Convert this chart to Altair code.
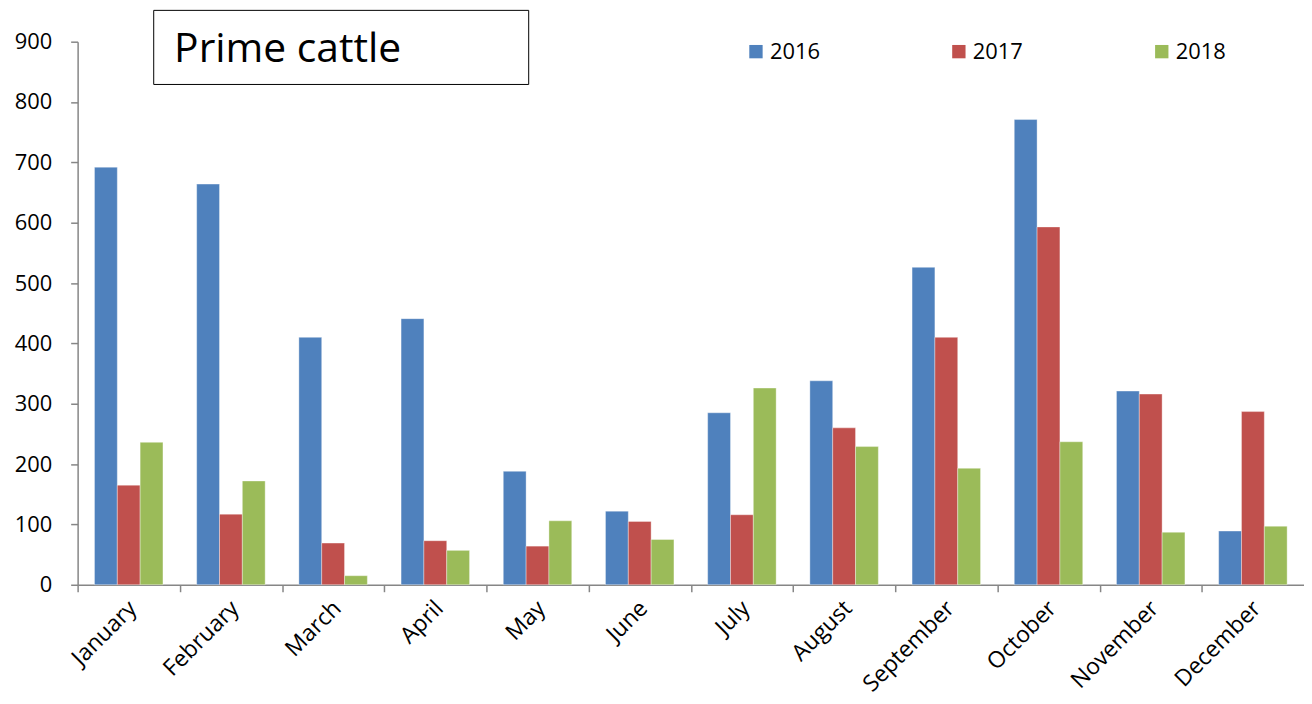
import altair as alt
import pandas as pd

months = ["January", "February", "March", "April", "May", "June",
          "July", "August", "September", "October", "November", "December"]
years = ["2016", "2017", "2018"]
y2016 = [692, 664, 410, 441, 188, 122, 285, 338, 526, 771, 321, 89]
y2017 = [165, 117, 69, 73, 64, 105, 116, 260, 410, 593, 316, 287]
y2018 = [236, 172, 15, 57, 106, 75, 326, 229, 193, 237, 87, 97]
colors = ["#4F81BD", "#C0504D", "#9BBB59"]
y_ticks = list(range(0, 901, 100))
title_text = "Prime cattle"

rows = []
for yr, vals in zip(years, [y2016, y2017, y2018]):
    for m, v in zip(months, vals):
        rows.append({"month": m, "year": yr, "value": v})
df = pd.DataFrame(rows)

FONT = "Open Sans"
GREY = "#868686"
W = 1233
STEP = W / 12.0

bars = alt.Chart(df).mark_bar(stroke="white", strokeWidth=0.8, strokeOpacity=0.45).encode(
    x=alt.X("month:N", sort=months,
            scale=alt.Scale(paddingInner=0.33, paddingOuter=0.165),
            axis=alt.Axis(title=None, labelAngle=-45, labelAlign="right",
                          labelBaseline="top",
                          tickOffset=-STEP / 2, labelOffset=STEP / 2 - 4,
                          tickSize=7, tickWidth=1.5, tickColor=GREY,
                          domainColor=GREY, domainWidth=1.5,
                          labelFont=FONT, labelFontSize=23, labelColor="black",
                          labelPadding=5)),
    xOffset=alt.XOffset("year:N", sort=years, scale=alt.Scale(paddingInner=0, paddingOuter=0)),
    y=alt.Y("value:Q", scale=alt.Scale(domain=[0, 900]),
            axis=alt.Axis(title=None, values=y_ticks, grid=False,
                          tickSize=7, tickWidth=1.5, tickColor=GREY,
                          domainColor=GREY, domainWidth=1.5,
                          labelFont=FONT, labelFontSize=22, labelColor="black",
                          labelPadding=19)),
    color=alt.Color("year:N", sort=years,
                    scale=alt.Scale(domain=years, range=colors),
                    legend=alt.Legend(title=None, orient="none", legendX=671, legendY=-1,
                                      direction="horizontal", columns=3,
                                      columnPadding=128, padding=0,
                                      symbolType="square", symbolSize=180,
                                      symbolStrokeWidth=0, symbolOpacity=1,
                                      labelFont=FONT, labelFontSize=22,
                                      labelColor="black", labelOffset=3)),
)

box = alt.Chart(alt.Data(values=[{}])).mark_rect(
    fill="white", stroke="black", strokeWidth=1
).encode(x=alt.value(76.5), x2=alt.value(453.5), y=alt.value(-31.5), y2=alt.value(43))

title = alt.Chart(alt.Data(values=[{"t": title_text}])).mark_text(
    font=FONT, fontSize=41, align="left", baseline="alphabetic", color="black"
).encode(text="t:N", x=alt.value(97), y=alt.value(20))

chart = alt.layer(bars, box, title).properties(
    width=W, height=546,
    background="white",
    autosize=alt.AutoSizeParams(type="none"),
    padding={"left": 70, "top": 32, "right": 0, "bottom": 116},
).configure_view(stroke="transparent", strokeWidth=0)

chart.save("out.html", embed_options={"renderer": "svg", "actions": False})
